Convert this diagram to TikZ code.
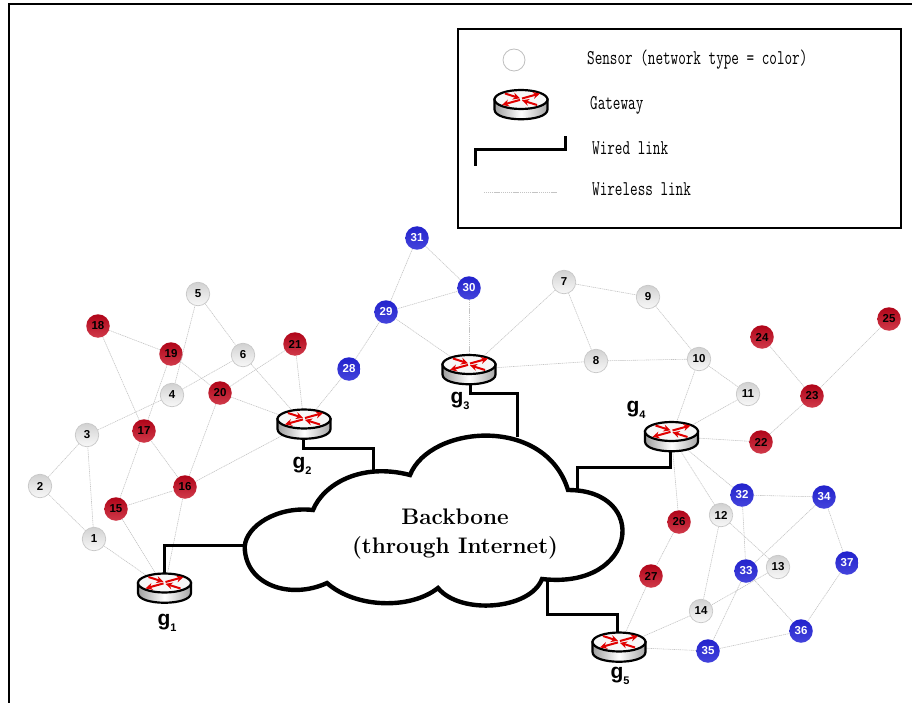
\documentclass[tikz,border=0pt]{standalone}
\usepackage{graphicx}
\usepackage{fontspec}
\newfontfamily\labfont{Liberation Sans}
\usetikzlibrary{shapes.geometric,arrows.meta}
\definecolor{rd}{HTML}{B00418}
\definecolor{rdb}{HTML}{D03A4A}
\definecolor{bl}{HTML}{2222CC}
\definecolor{blb}{HTML}{4444DC}
\definecolor{wlc}{HTML}{C4C4C4}
\tikzset{
  ball/.style={circle,minimum size=23.5pt,inner sep=0pt,font=\labfont\bfseries\fontsize{11.5}{11.5}\selectfont},
  gs/.style={ball,draw=black!22,line width=.7pt,top color=black!18,bottom color=black!3,middle color=black!10,text=black},
  rs/.style={ball,top color=rd,middle color=rd,bottom color=rdb,text=black},
  bs/.style={ball,top color=bl,middle color=bl,bottom color=blb,text=white},
  gw/.style={ellipse,minimum width=54pt,minimum height=30pt,inner sep=0pt},
  wl/.style={draw=wlc,line width=.6pt,dash pattern=on 1.2pt off .7pt},
  wired/.style={draw=black,line width=3pt,line join=miter},
  glabel/.style={font=\labfont\bfseries\fontsize{21}{21}\selectfont,inner sep=0pt},
  legtext/.style={anchor=west,inner sep=0pt,font=\ttfamily\fontsize{21}{21}\selectfont},
  rarrow/.style={draw=red!88!black,line width=2pt,-{Stealth[length=7pt,width=7pt]}},
  router/.pic={
    \path[left color=black!38,right color=black!35,middle color=white,draw=black,line width=2.2pt]
      (-26.5,-5) -- (-26.5,5) .. controls (-26.5,18) and (26.5,18) .. (26.5,5) -- (26.5,-5) -- cycle;
    \path[fill=black!3,draw=black,line width=2.2pt] (0,-5) ellipse [x radius=26.5pt,y radius=9.5pt];
    \draw[rarrow] (-16,-11) -- (-1,-6.2);
    \draw[rarrow] (16,0.5) -- (1,-4.2);
    \draw[rarrow] (-1,-4.6) -- (-19,0.4);
    \draw[rarrow] (1,-6) -- (19,-11);
  }
}
\newcommand{\gsub}[2]{#1\raisebox{-.28em}{\fontsize{11}{11}\selectfont #2}}
\begin{document}
\begin{tikzpicture}[x=1pt,y=-1pt]
\useasboundingbox (0,0) rectangle (912,703);
% page frame
\coordinate (fa) at (9,703); \coordinate (fb) at (9,4); \coordinate (fc) at (912,4);
\draw[black,line width=2.4pt] (fa) -- (fb) -- (fc);
% legend
\node[draw=black,line width=2pt,minimum width=443pt,minimum height=199pt,inner sep=0pt] (legend) at (679.5,128.5) {};
\node[circle,draw=black!25,line width=.8pt,fill=white,minimum size=22pt,inner sep=0pt] (lsensor) at (514,60) {};
\node[gw] (lgw) at (521,104.5) {};
\pic at (lgw) {router};
\coordinate (la) at (475,166); \coordinate (lb) at (475,150); \coordinate (lc) at (565,150); \coordinate (ld) at (565,136);
\draw[wired] (la) -- (lb) -- (lc) -- (ld);
\coordinate (le) at (484,192); \coordinate (lf) at (557,192);
\draw[wl] (le) -- (lf);
\node[legtext] (t1) at (587,60) {\scalebox{.702}[1]{Sensor (network type = color)}};
\node[legtext] (t2) at (590,105.5) {\scalebox{.702}[1]{Gateway}};
\node[legtext] (t3) at (592,148) {\scalebox{.702}[1]{Wired link}};
\node[legtext] (t4) at (592,189) {\scalebox{.702}[1]{Wireless link}};
% gateways
\foreach \n/\x/\y in {g1/164.5/588,g2/304/424,g3/469/369.5,g4/671.5/436.5,g5/619/647}
  {\node[gw] (\n) at (\x,\y) {};}
% sensors
\foreach \i/\x/\y in {1/94/539,2/40/486,3/87/435,4/172/395,5/198/294,6/243/355,7/564/282,8/596/361,9/648/297,10/699/359,11/748/394,12/721/515,13/778/567,14/701/611}
  {\node[gs] (n\i) at (\x,\y) {\i};}
\foreach \i/\x/\y in {15/116/509,16/185/487,17/144/431,18/98/326,19/171/354,20/220/393,21/295/344,22/761/442,23/812/396,24/762/337,25/889/319,26/679/522,27/651/576}
  {\node[rs] (n\i) at (\x,\y) {\i};}
\foreach \i/\x/\y in {28/349/369,29/386/312,30/469/288,31/417/238,32/742/495,33/746/571,34/824/497,35/708/651,36/801/631,37/847/563}
  {\node[bs] (n\i) at (\x,\y) {\i};}
% wireless links
\foreach \a/\b in {n1/n2,n1/n3,n2/n3,n3/n4,n4/n5,n4/n6,n5/n6,n1/g1,n15/g1,n16/g1,n15/n16,n15/n17,n16/n17,n17/n18,n17/n19,n18/n19,n19/n20,n20/n21,n20/n16,n20/g2,n6/g2,n21/g2,n28/g2,n16/g2,n28/n29,n29/n30,n29/n31,n30/n31,n30/g3,n29/g3,n7/g3,n8/g3,n7/n8,n7/n9,n8/n10,n9/n10,n10/n11,n10/g4,n11/g4,n22/g4,n22/n23,n23/n24,n23/n25,g4/n32,g4/n12,g4/n26,n26/n27,n27/g5,n14/g5,n35/g5,n35/n36,n36/n37,n37/n34,n34/n32,n34/n33,n32/n33,n33/n36,n33/n35,n12/n13,n12/n14,n13/n14}
  {\draw[wl] (\a) -- (\b);}
% routers
\foreach \n in {g1,g2,g3,g4,g5} {\pic at (\n) {router};}
% cloud
\draw[black,line width=4.4pt,fill=white,line join=miter]
  (244.7,546.7) .. controls (246,526) and (277,506) .. (313,510)
  .. controls (323,485) and (360,462) .. (410,475)
  .. controls (430,425) and (545,415) .. (568,490)
  .. controls (650,490) and (638,590) .. (542,579)
  .. controls (530,610) and (460,615) .. (438,588)
  .. controls (410,610) and (355,608) .. (327,583)
  .. controls (290,600) and (245,585) .. cycle;
\node[font=\bfseries\fontsize{22.5}{22.5}\selectfont,inner sep=0pt] (bb1) at (455,517) {Backbone};
\node[font=\bfseries\fontsize{22.5}{22.5}\selectfont,inner sep=0pt] (bb2) at (455,548) {(through Internet)};
% wired links
\coordinate (c1) at (245,545.5); \coordinate (c2) at (373,470); \coordinate (c3) at (517,437); \coordinate (c4) at (577,489); \coordinate (c5) at (547,579);
\draw[wired] (164,573) -- (164,545.5) -- (c1);
\draw[wired] (303,439) -- (303,448) -- (373,448) -- (c2);
\draw[wired] (470,384) -- (470,393) -- (517,393) -- (c3);
\draw[wired] (670,451) -- (670,467) -- (577,467) -- (c4);
\draw[wired] (617,632) -- (617,614) -- (547,614) -- (c5);
% gateway labels
\node[glabel] (l1) at (167,623) {\gsub{g}{1}};
\node[glabel] (l2) at (302,466) {\gsub{g}{2}};
\node[glabel] (l3) at (460,401) {\gsub{g}{3}};
\node[glabel] (l4) at (636,410) {\gsub{g}{4}};
\node[glabel] (l5) at (620,676) {\gsub{g}{5}};
\end{tikzpicture}
\end{document}
